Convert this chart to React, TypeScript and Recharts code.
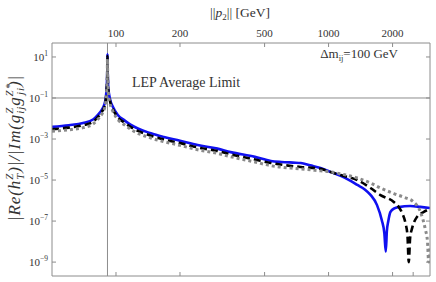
import React from 'react'
import { LineChart, Line, XAxis, YAxis, ReferenceLine } from 'recharts'

// momentum values (GeV) and ratio values, one list per curve
const blueP = [50, 60, 70, 78, 82, 86, 88, 89.5, 90.5, 91.0, 91.19, 91.4, 92, 93.5, 96.8, 102, 110, 117, 146, 168, 200, 242, 300, 346, 450, 535, 600, 680, 740, 820, 916, 1020, 1140, 1250, 1365, 1480, 1575, 1690, 1780, 1830, 1858, 1880, 1910, 1955, 2040, 2140, 2420, 2700, 3000]
const blueV = [3.9e-3, 4.7e-3, 6.0e-3, 8.9e-3, 1.48e-2, 2.8e-2, 4.6e-2, 0.1, 0.4, 2.0, 14, 2.0, 0.32, 0.1, 3.6e-2, 1.48e-2, 7.9e-3, 5.0e-3, 1.9e-3, 1.26e-3, 8.3e-4, 5.1e-4, 3.4e-4, 2.3e-4, 1.35e-4, 8.5e-5, 7.6e-5, 7.1e-5, 6.8e-5, 5.2e-5, 3.9e-5, 2.5e-5, 1.6e-5, 1.0e-5, 5.8e-6, 3.5e-6, 1.9e-6, 6.0e-7, 1.1e-7, 2.5e-8, 3.2e-9, 3.2e-8, 1.0e-7, 2.8e-7, 4.2e-7, 4.8e-7, 5.4e-7, 4.9e-7, 4.3e-7]

const blackP = [50, 60, 70, 78, 82, 86, 88, 89.5, 90.5, 91.0, 91.19, 91.4, 92, 93.5, 96.8, 102, 110, 117, 146, 168, 200, 242, 300, 346, 450, 535, 740, 916, 1020, 1140, 1365, 1575, 1754, 2027, 2139, 2218, 2300, 2350, 2383, 2420, 2472, 2606, 2806, 3000]
const blackV = [3.0e-3, 3.6e-3, 4.7e-3, 6.9e-3, 1.15e-2, 2.2e-2, 3.5e-2, 7.9e-2, 0.32, 1.6, 11, 1.6, 0.25, 7.9e-2, 2.8e-2, 1.15e-2, 6.2e-3, 3.9e-3, 1.45e-3, 9.5e-4, 6.3e-4, 3.9e-4, 2.6e-4, 1.78e-4, 1.0e-4, 6.8e-5, 4.3e-5, 3.5e-5, 2.5e-5, 1.74e-5, 1.0e-5, 4.1e-6, 1.86e-6, 8.5e-7, 4.8e-7, 2.5e-7, 7.9e-8, 2.0e-8, 1.0e-9, 1.6e-8, 4.5e-8, 1.6e-7, 2.8e-7, 3.9e-7]

const grayP = [50, 60, 70, 78, 82, 86, 88, 89.5, 90.5, 91.0, 91.19, 91.4, 92, 93.5, 96.8, 102, 110, 117, 146, 168, 200, 242, 300, 346, 450, 535, 740, 916, 1020, 1140, 1365, 1575, 1754, 2027, 2249, 2514, 2704, 2851, 2920, 2957, 3000]
const grayV = [2.4e-3, 2.8e-3, 3.6e-3, 5.4e-3, 8.9e-3, 1.7e-2, 2.75e-2, 6.3e-2, 0.25, 1.26, 7.9, 1.26, 0.2, 6.3e-2, 2.2e-2, 8.9e-3, 4.8e-3, 3.0e-3, 1.12e-3, 7.4e-4, 4.9e-4, 3.0e-4, 2.0e-4, 1.38e-4, 7.6e-5, 5.0e-5, 3.5e-5, 2.8e-5, 2.5e-5, 2.0e-5, 1.26e-5, 7.1e-6, 4.1e-6, 2.2e-6, 1.48e-6, 8.5e-7, 2.8e-7, 4.0e-8, 1.0e-8, 1.0e-9, 5.0e-9]

const xTicks = [100, 200, 500, 1000, 2000]
const xTicksBottom = [100, 200, 500, 1000, 2000, 2500]
const yTicks = [10, 0.1, 1e-3, 1e-5, 1e-7, 1e-9]

const zMass = 91.19
const lepLimit = 0.1

const toRows = (ps: number[], vs: number[]) => ps.map((p, i) => ({ p, v: vs[i] }))
const blueData = toRows(blueP, blueV)
const blackData = toRows(blackP, blackV)
const grayData = toRows(grayP, grayV)

const frame = '#8c8c8c'
const ink = '#333'
const serif = "'Liberation Serif', 'Times New Roman', Times, serif"
const font = { fontFamily: serif }
const xDomain = [50, 3000]
const yDomain = [2.1e-10, 48]

const expLabel = (v: number) => {
  const e = Math.round(Math.log10(v))
  return e < 0 ? '\u2212' + -e : String(e)
}

const LeftTick = (props: any) => {
  const { x, y, payload } = props
  return (
    <g>
      <line x1={x + 4} x2={x + 8} y1={y} y2={y} stroke={frame} />
      <text x={x} y={y + 4} textAnchor="end" style={font} fontSize={11} fill={ink}>
        10<tspan dy={-5} fontSize={7.5}>{expLabel(payload.value)}</tspan>
      </text>
    </g>
  )
}

const RightTick = (props: any) => {
  const { x, y } = props
  return <line x1={x} x2={x - 4} y1={y} y2={y} stroke={frame} />
}

const TopTick = (props: any) => {
  const { x, y, payload } = props
  return (
    <g>
      <line x1={x} x2={x} y1={y + 10} y2={y + 14} stroke={frame} />
      <text x={x} y={y + 4} textAnchor="middle" style={font} fontSize={11} fill={ink}>
        {payload.value}
      </text>
    </g>
  )
}

const BottomTick = (props: any) => {
  const { x, y } = props
  return <line x1={x} x2={x} y1={y} y2={y - 4} stroke={frame} />
}

export default function App() {
  return (
    <div style={{ position: 'absolute', left: 0, top: 0 }}>
      <LineChart width={436} height={282} margin={{ top: 0, right: 0, bottom: 0, left: 0 }}>
        <XAxis xAxisId="top" orientation="top" dataKey="p" type="number" scale="log" domain={xDomain}
          allowDataOverflow ticks={xTicks} interval={0} height={43} tickSize={0} tickMargin={10}
          tickLine={false} axisLine={{ stroke: frame }} tick={TopTick} />
        <XAxis xAxisId="bottom" orientation="bottom" dataKey="p" type="number" scale="log" domain={xDomain}
          allowDataOverflow ticks={xTicksBottom} interval={0} height={6} tickSize={0} tickMargin={0}
          tickLine={false} axisLine={{ stroke: frame }} tick={BottomTick} />
        <YAxis yAxisId="left" orientation="left" type="number" scale="log" domain={yDomain}
          allowDataOverflow ticks={yTicks} interval={0} width={52} tickSize={0} tickMargin={4}
          tickLine={false} axisLine={{ stroke: frame }} tick={LeftTick} />
        <YAxis yAxisId="right" orientation="right" type="number" scale="log" domain={yDomain}
          allowDataOverflow ticks={yTicks} interval={0} width={6} tickSize={0} tickMargin={0}
          tickLine={false} axisLine={{ stroke: frame }} tick={RightTick} />

        <ReferenceLine xAxisId="top" yAxisId="left" y={lepLimit} stroke={frame} />
        <ReferenceLine xAxisId="top" yAxisId="left" x={zMass} stroke={frame} />

        <Line xAxisId="top" yAxisId="left" data={blueData} dataKey="v" type="monotone" stroke="#1010f0"
          strokeWidth={2.6} dot={false} isAnimationActive={false} />
        <Line xAxisId="top" yAxisId="left" data={blackData} dataKey="v" type="monotone" stroke="#000"
          strokeWidth={2.6} strokeDasharray="7 4" dot={false} isAnimationActive={false} />
        <Line xAxisId="top" yAxisId="left" data={grayData} dataKey="v" type="monotone" stroke="#8a8a8a"
          strokeWidth={3} strokeDasharray="3 3" dot={false} isAnimationActive={false} />

        <text x={240} y={17} textAnchor="middle" style={font} fontSize={13.5} fill={ink}>
          ||<tspan fontStyle="italic">p</tspan><tspan dy={3} fontSize={9}>2</tspan><tspan dy={-3}>|| [GeV]</tspan>
        </text>
        <text x={132} y={87} style={font} fontSize={14} fill={ink}>LEP Average Limit</text>
        <text x={398} y={58} textAnchor="end" style={font} fontSize={13} fill={ink}>
          {'\u0394m'}<tspan dy={3} fontSize={8.5}>ij</tspan><tspan dy={-3}>=100 GeV</tspan>
        </text>
        <text transform="rotate(-90)" x={-148} y={20} textAnchor="middle" style={font} fontSize={17}
          fontStyle="italic" fill={ink} letterSpacing={0.9}>
          |Re(h<tspan dy={-7} fontSize={11}>Z</tspan><tspan dx={-7} dy={11} fontSize={11}>T</tspan>
          <tspan dy={-4}>)|/|Im(g</tspan><tspan dy={-7} fontSize={11}>Z</tspan><tspan dx={-7} dy={11} fontSize={11}>ij</tspan>
          <tspan dy={-4}>g</tspan><tspan dy={-7} fontSize={11}>Z*</tspan><tspan dx={-12} dy={11} fontSize={11}>ji</tspan>
          <tspan dy={-4}>)|</tspan>
        </text>
      </LineChart>
    </div>
  )
}
